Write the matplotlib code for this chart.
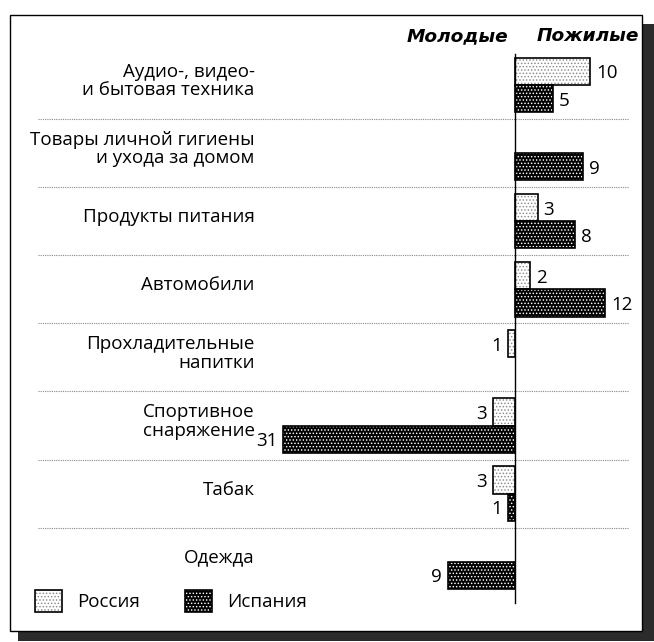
import matplotlib
matplotlib.use("Agg")
import matplotlib.pyplot as plt
from matplotlib.patches import Rectangle
from matplotlib.legend_handler import HandlerTuple

# data (positive = elderly "Пожилые", negative = young "Молодые"; None = no bar)
categories = [
    "Аудио-, видео-\nи бытовая техника",
    "Товары личной гигиены\nи ухода за домом",
    "Продукты питания",
    "Автомобили",
    "Прохладительные\nнапитки",
    "Спортивное\nснаряжение",
    "Табак",
    "Одежда",
]
russia = [10, None, 3, 2, -1, -3, -3, None]
spain = [5, 9, 8, 12, None, -31, -1, -9]
series_names = ["Россия", "Испания"]

W, H = 654, 642
plt.rcParams["font.family"] = ["Open Sans", "DejaVu Sans"]
plt.rcParams["hatch.linewidth"] = 0.65

fig = plt.figure(figsize=(W / 100, H / 100), dpi=100)
ax = fig.add_axes([0, 0, 1, 1])
ax.set_axis_off()

# pixel geometry: zero at x=515, 7.5 px per unit; row i centred at y=85+68.1*i
x0, ppu = 515, 7.5
y0, pitch = 85, 68.1
ax.set_xlim(-x0 / ppu, (W - x0) / ppu)
ax.set_ylim((H - y0) / pitch, -y0 / pitch)


def fx(px):
    return px / W


def fy(py):
    return 1 - py / H


# frame with shadow
fig.patches.append(Rectangle((fx(18), fy(641)), fx(636), fy(24) - fy(641),
                             transform=fig.transFigure, facecolor="#2b2b2b",
                             edgecolor="none", zorder=-2))
fig.patches.append(Rectangle((fx(10), fy(631)), fx(632), fy(15) - fy(631),
                             transform=fig.transFigure, facecolor="white",
                             edgecolor="black", linewidth=1.0, zorder=-1))

bh = 0.4


def draw_bars(ypos, vals, face, hatch_col, hatch):
    ys = [y for y, v in zip(ypos, vals) if v is not None]
    vs = [v for v in vals if v is not None]
    b1 = ax.barh(ys, vs, height=bh, color=face, edgecolor=hatch_col,
                 hatch=hatch, linewidth=0, zorder=3)
    b2 = ax.barh(ys, vs, height=bh, fill=False, edgecolor="black",
                 linewidth=1.2, zorder=4)
    return b1, b2, ys, vs


idx = list(range(len(categories)))
ru = draw_bars([i - bh / 2 for i in idx], russia, "white", "#8a8a8a", ".....")
es = draw_bars([i + bh / 2 for i in idx], spain, "black", "white", ".....")

fs = 13.5
for _, _, ys, vs in (ru, es):
    for y, v in zip(ys, vs):
        off = 0.8 if v > 0 else -0.7
        ax.text(v + off, y + 0.03, str(abs(v)), ha="left" if v > 0 else "right",
                va="center", fontsize=fs)

# category labels
for i, lab in enumerate(categories):
    ax.text(-34.7, i - 0.06, lab, ha="right", va="center", fontsize=fs,
            linespacing=1.05)

# dotted separators and zero line
for i in idx[:-1]:
    ax.plot([-63.6, 15.1], [i + 0.5, i + 0.5], color="#888888",
            linestyle=(0, (1, 1)), linewidth=0.8, zorder=2)
ax.plot([0, 0], [-0.45, 7.6], color="black", linewidth=1.0, zorder=5)

# header
ax.text(fx(508), fy(36), "Молодые", transform=fig.transFigure, ha="right",
        va="center", fontsize=13.3, fontweight="bold", fontstyle="italic",
        family="DejaVu Sans")
ax.text(fx(537), fy(36), "Пожилые", transform=fig.transFigure, ha="left",
        va="center", fontsize=13.3, fontweight="bold", fontstyle="italic",
        family="DejaVu Sans")

leg = ax.legend([(ru[0], ru[1]), (es[0], es[1])], series_names,
                handler_map={tuple: HandlerTuple(ndivide=1)},
                loc="lower left", bbox_to_anchor=(fx(35), fy(612)),
                bbox_transform=fig.transFigure, ncol=2, frameon=False,
                borderpad=0, borderaxespad=0,
                fontsize=fs, handlelength=1.44, handleheight=1.44,
                handletextpad=0.8, columnspacing=2.4)

fig.savefig("out.png", dpi=100)
